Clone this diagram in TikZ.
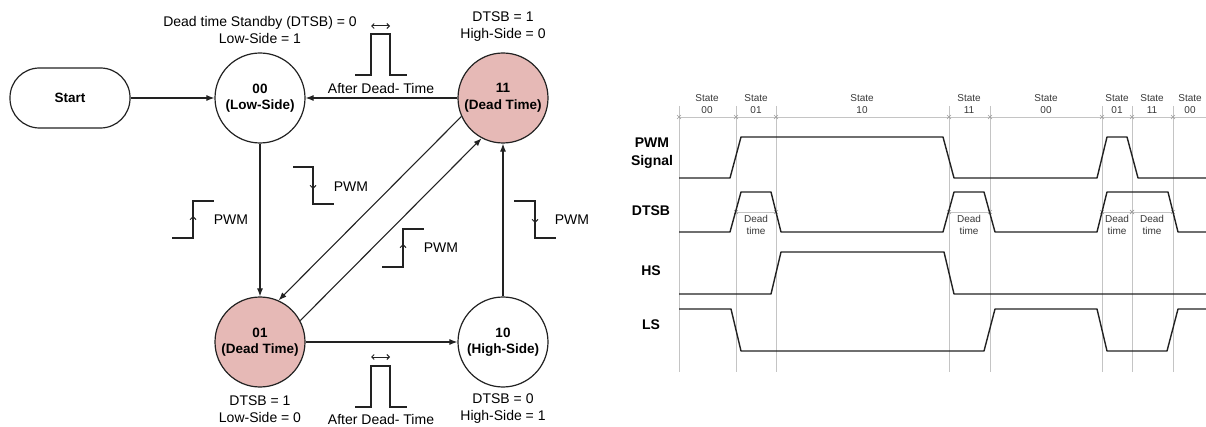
\documentclass[tikz,border=0pt]{standalone}
\usepackage{fontspec}
\setmainfont{Liberation Sans}
\usetikzlibrary{arrows.meta,calc}
\definecolor{dtpink}{HTML}{E6B9B6}
\definecolor{gridgray}{HTML}{C4C4C4}
\definecolor{sig}{HTML}{222222}
\begin{document}
\begin{tikzpicture}[x=1pt,y=-1pt,
  statebox/.style={circle,draw=sig,line width=1.2pt,minimum size=90pt,inner sep=0pt,align=center,
    font=\fontsize{13.5}{16.5}\selectfont\bfseries},
  deadbox/.style={statebox,fill=dtpink},
  startbox/.style={draw=sig,line width=1.2pt,rounded corners=29.5pt,minimum width=120pt,minimum height=60pt,
    font=\fontsize{13.5}{16.5}\selectfont\bfseries},
  lbl/.style={align=center,font=\fontsize{14}{17}\selectfont,inner sep=0pt},
  conn/.style={draw=sig,line width=1.1pt,-{Latex[length=8pt,width=6pt]}},
  thinline/.style={draw=sig,line width=1.1pt},
  tinyarrow/.style={draw=sig,line width=1pt,-{Straight Barb[length=3pt,width=6pt]}},
  dblarrow/.style={draw=sig,line width=1pt,{Straight Barb[length=2.5pt,width=5pt]}-{Straight Barb[length=2.5pt,width=5pt]}},
  grid/.style={draw=gridgray,line width=0.9pt},
  signal/.style={draw=sig,line width=1.4pt,line join=round},
  rowlbl/.style={align=center,font=\fontsize{14}{18}\selectfont\bfseries,inner sep=0pt},
  tlbl/.style={align=center,font=\fontsize{10}{12.5}\selectfont,text=sig!90,inner sep=0pt},
  mk/.style={draw=gridgray!80!black,line width=0.6pt}
]
\useasboundingbox (0,0) rectangle (1206,427);

% ---------- state diagram ----------
\node[startbox] (start) at (70,98) {Start};
\node[statebox] (s00) at (260,98) {00\\(Low-Side)};
\node[deadbox] (s11) at (503,98) {11\\(Dead Time)};
\node[deadbox] (s01) at (260,342) {01\\(Dead Time)};
\node[statebox] (s10) at (503,342) {10\\(High-Side)};

\draw[conn] (start) -- (s00);
\draw[conn] (s11) -- (s00);
\draw[conn] (s00) -- (s01);
\draw[conn] (s01) -- (s10);
\draw[conn] (s10) -- (s11);
\draw[conn] (s11.204) -- (s01.66);
\draw[conn] (s01.28) -- (s11.242);

\node[lbl] (l00) at (260,30) {Dead time Standby (DTSB) = 0\\Low-Side = 1};
\node[lbl] (l11) at (503,27) {DTSB = 1\\High-Side = 0};
\node[lbl] (l01) at (260,409) {DTSB = 1\\Low-Side = 0};
\node[lbl] (l10) at (503,409) {DTSB = 0\\High-Side = 1};

% after dead-time (top)
\node[lbl] (adt1) at (381,88) {After Dead- Time};
\draw[thinline] (355,75) -- (371,75) -- (371,34) -- (390,34) -- (390,75) -- (407,75);
\draw[dblarrow] (371,26) -- (390,26);
% after dead-time (bottom)
\node[lbl] (adt2) at (381,419) {After Dead- Time};
\draw[thinline] (355,407) -- (371,407) -- (371,366) -- (390,366) -- (390,407) -- (407,407);
\draw[dblarrow] (371,357) -- (390,357);

% PWM edges
\draw[thinline] (172,238) -- (193,238) -- (193,201) -- (214,201);
\draw[tinyarrow] (193,225) -- (193,216);
\node[lbl] (p1) at (231,220) {PWM};

\draw[thinline] (293,167) -- (313,167) -- (313,204) -- (334,204);
\draw[tinyarrow] (313,180) -- (313,189);
\node[lbl] (p2) at (351,187) {PWM};

\draw[thinline] (382,267) -- (403,267) -- (403,229) -- (424,229);
\draw[tinyarrow] (403,253) -- (403,244);
\node[lbl] (p3) at (441,248) {PWM};

\draw[thinline] (514,201) -- (535,201) -- (535,238) -- (556,238);
\draw[tinyarrow] (535,214) -- (535,223);
\node[lbl] (p4) at (572,220) {PWM};

% ---------- timing diagram ----------
\foreach \x in {679,736,776,949,990,1102,1132,1173}
  \draw[grid] (\x,106) -- (\x,372);
\draw[grid] (679,117) -- (1206,117);
\foreach \x in {679,736,776,949,990,1102,1132,1173}
  \draw[mk] (\x-2,115) -- (\x+2,119) (\x-2,119) -- (\x+2,115);

\foreach \a/\b in {736/776,949/990,1102/1132,1132/1173}{
  \draw[grid] (\a,212) -- (\b,212);
  \draw[mk] (\a-2,210) -- (\a+2,214) (\a-2,214) -- (\a+2,210);
  \draw[mk] (\b-2,210) -- (\b+2,214) (\b-2,214) -- (\b+2,210);
}

\node[tlbl] (t1) at (707,104) {State\\00};
\node[tlbl] (t2) at (756,104) {State\\01};
\node[tlbl] (t3) at (862,104) {State\\10};
\node[tlbl] (t4) at (969,104) {State\\11};
\node[tlbl] (t5) at (1046,104) {State\\00};
\node[tlbl] (t6) at (1117,104) {State\\01};
\node[tlbl] (t7) at (1152,104) {State\\11};
\node[tlbl] (t8) at (1190,104) {State\\00};

\node[tlbl] (d1) at (756,225) {Dead\\time};
\node[tlbl] (d2) at (969,225) {Dead\\time};
\node[tlbl] (d3) at (1117,225) {Dead\\time};
\node[tlbl] (d4) at (1152,225) {Dead\\time};

\node[rowlbl] (rpwm) at (652,153) {PWM\\Signal};
\node[rowlbl] (rdtsb) at (651,211) {DTSB};
\node[rowlbl] (rhs) at (651,271) {HS};
\node[rowlbl] (rls) at (651,325) {LS};

\draw[signal] (679,178) -- (730,178) -- (741,137) -- (943,137) -- (954,178) -- (1097,178) -- (1107,137) -- (1127,137) -- (1138,178) -- (1206,178);
\draw[signal] (679,232) -- (730,232) -- (741,192) -- (771,192) -- (781,232) -- (943,232) -- (954,192) -- (984,192) -- (995,232) -- (1097,232) -- (1107,192) -- (1168,192) -- (1178,232) -- (1206,232);
\draw[signal] (679,294) -- (771,294) -- (781,252) -- (944,252) -- (954,294) -- (1206,294);
\draw[signal] (679,309) -- (731,309) -- (741,351) -- (984,351) -- (995,309) -- (1097,309) -- (1107,351) -- (1167,351) -- (1178,309) -- (1206,309);
\end{tikzpicture}
\end{document}
